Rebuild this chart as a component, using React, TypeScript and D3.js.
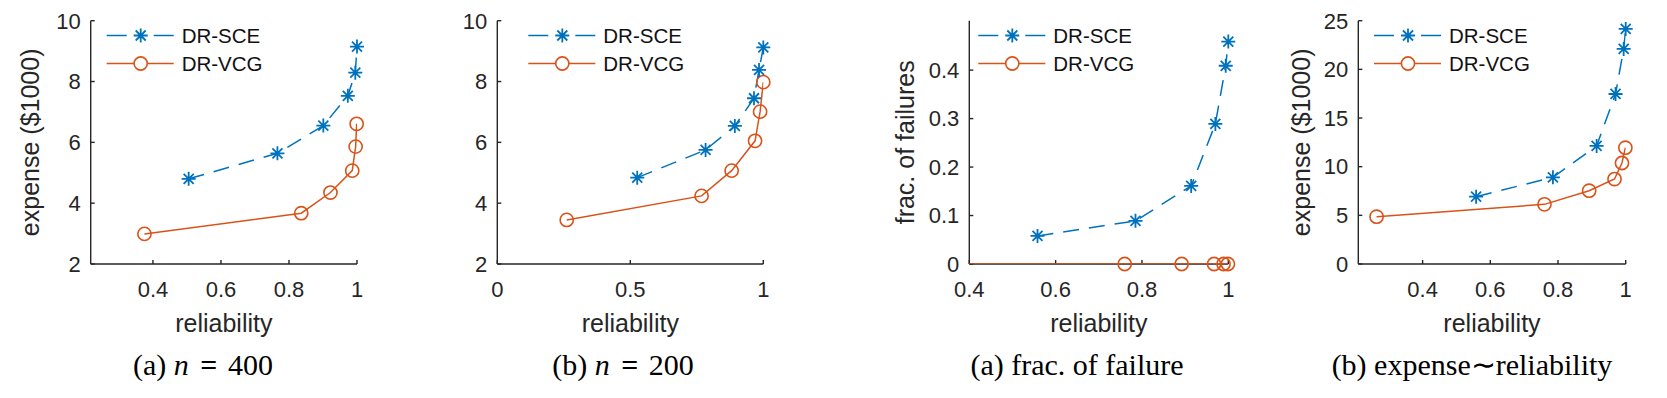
import React from 'react';
import * as d3 from 'd3';

const W = 1667;
const H = 398;

// (a) n = 400
const sceRelA = [0.505, 0.766, 0.901, 0.973, 0.995, 1.0];
const sceExpA = [4.8, 5.64, 6.55, 7.53, 8.29, 9.15];
const vcgRelA = [0.375, 0.836, 0.922, 0.986, 0.996, 0.999];
const vcgExpA = [2.99, 3.67, 4.35, 5.07, 5.86, 6.61];

// (b) n = 200
const sceRelB = [0.526, 0.783, 0.893, 0.965, 0.984, 1.0];
const sceExpB = [4.84, 5.75, 6.54, 7.45, 8.38, 9.12];
const vcgRelB = [0.261, 0.768, 0.881, 0.969, 0.988, 1.0];
const vcgExpB = [3.45, 4.24, 5.07, 6.05, 7.01, 7.98];

// second figure: failure fraction and expense vs reliability
const sceRel = [0.558, 0.785, 0.914, 0.97, 0.994, 1.0];
const vcgRel = [0.264, 0.76, 0.892, 0.967, 0.989, 0.999];
const sceFail = [0.058, 0.089, 0.161, 0.289, 0.409, 0.459];
const vcgFail = [0, 0, 0, 0, 0, 0];
const sceExp = [6.92, 8.91, 12.13, 17.47, 22.1, 24.15];
const vcgExp = [4.86, 6.13, 7.53, 8.73, 10.38, 11.95];

const seriesNames = ['DR-SCE', 'DR-VCG'];
const ticksA = [0.4, 0.6, 0.8, 1];
const ticksB = [0, 0.5, 1];
const expTicks = [2, 4, 6, 8, 10];
const failTicks = [0, 0.1, 0.2, 0.3, 0.4];
const expTicks2 = [0, 5, 10, 15, 20, 25];

const BLUE = '#0072BD';
const ORANGE = '#D95319';
const AX = '#262626';
const SANS = '"Liberation Sans", Arial, Helvetica, sans-serif';
const SERIF = '"Liberation Serif", "Times New Roman", serif';

const Star = ({ x, y, c }) => {
  const r = 7, q = 5;
  return (
    <path
      d={`M${x - r},${y}H${x + r}M${x},${y - r}V${y + r}M${x - q},${y - q}L${x + q},${y + q}M${x - q},${y + q}L${x + q},${y - q}`}
      stroke={c} strokeWidth={1.8} fill="none"
    />
  );
};

const Circ = ({ x, y, c }) => (
  <circle cx={x} cy={y} r={6.6} fill="none" stroke={c} strokeWidth={1.6} />
);

const fmt = (v) => String(+v.toFixed(2));

const Panel = ({ id, cfg }) => {
  const { x0, x1, y0, y1, xDom, yDom, xTicks, yTicks, sce, vcg, yLabel, yLabelX, legX, caption, capX } = cfg;
  const xs = d3.scaleLinear().domain(xDom).range([x0, x1]);
  const ys = d3.scaleLinear().domain(yDom).range([y0, y1]);
  const ln = d3.line().x((d) => xs(d[0])).y((d) => ys(d[1]));
  const inDom = (d) => d[0] >= xDom[0] - 1e-9 && d[0] <= xDom[1] + 1e-9;
  const clipId = `clip-${id}`;
  const tk = 4;
  return (
    <g>
      <defs>
        <clipPath id={clipId}>
          <rect x={x0} y={y1} width={x1 - x0} height={y0 - y1} />
        </clipPath>
      </defs>
      {/* axes */}
      <g stroke={AX} strokeWidth={1.4}>
        <line x1={x0} x2={x1} y1={y0} y2={y0} />
        <line x1={x0} x2={x0} y1={y0} y2={y1} />
        {xTicks.map((t) => (
          <line key={'xt' + t} x1={xs(t)} x2={xs(t)} y1={y0} y2={y0 - tk} />
        ))}
        {yTicks.map((t) => (
          <line key={'yt' + t} x1={x0} x2={x0 + tk} y1={ys(t)} y2={ys(t)} />
        ))}
      </g>
      <g fontFamily={SANS} fontSize={22} fill={AX}>
        {xTicks.map((t) => (
          <text key={'xl' + t} x={xs(t)} y={297} textAnchor="middle">{fmt(t)}</text>
        ))}
        {yTicks.map((t) => (
          <text key={'yl' + t} x={x0 - 10} y={ys(t) + 7.8} textAnchor="end">{fmt(t)}</text>
        ))}
      </g>
      <text x={(x0 + x1) / 2} y={332} textAnchor="middle" fontFamily={SANS} fontSize={25} fill={AX}>reliability</text>
      {yLabel && (
        <text transform={`translate(${yLabelX},${(y0 + y1) / 2}) rotate(-90)`} textAnchor="middle"
          fontFamily={SANS} fontSize={25} fill={AX}>{yLabel}</text>
      )}
      {/* data */}
      <g clipPath={`url(#${clipId})`} fill="none" strokeWidth={1.5}>
        <path d={ln(vcg)} stroke={ORANGE} />
        <path d={ln(sce)} stroke={BLUE} strokeDasharray="16 10" />
      </g>
      {vcg.filter(inDom).map((d, i) => <Circ key={'c' + i} x={xs(d[0])} y={ys(d[1])} c={ORANGE} />)}
      {sce.filter(inDom).map((d, i) => <Star key={'s' + i} x={xs(d[0])} y={ys(d[1])} c={BLUE} />)}
      {/* legend */}
      <g fontFamily={SANS} fontSize={20.5} fill="#111">
        <line x1={legX} x2={legX + 20} y1={35.5} y2={35.5} stroke={BLUE} strokeWidth={1.5} />
        <line x1={legX + 47} x2={legX + 67} y1={35.5} y2={35.5} stroke={BLUE} strokeWidth={1.5} />
        <Star x={legX + 34} y={35.5} c={BLUE} />
        <text x={legX + 75} y={42.8}>{seriesNames[0]}</text>
        <line x1={legX} x2={legX + 67} y1={63.5} y2={63.5} stroke={ORANGE} strokeWidth={1.5} />
        <circle cx={legX + 34} cy={63.5} r={6.6} fill="#fff" stroke={ORANGE} strokeWidth={1.6} />
        <text x={legX + 75} y={70.8}>{seriesNames[1]}</text>
      </g>
      {/* caption */}
      <text x={capX} y={375} textAnchor="middle" fontFamily={SERIF} fontSize={30} fill="#000">{caption}</text>
    </g>
  );
};

const zip = (a, b) => a.map((v, i) => [v, b[i]]);

const panels = [
  {
    x0: 90.7, x1: 357, y0: 264, y1: 20.7, xDom: [0.217, 1], yDom: [2, 10], xTicks: ticksA, yTicks: expTicks,
    sce: zip(sceRelA, sceExpA), vcg: zip(vcgRelA, vcgExpA), yLabel: 'expense ($1000)', yLabelX: 39, legX: 106.7,
    capX: 203,
    caption: (<><tspan>(a) </tspan><tspan fontStyle="italic">n</tspan><tspan dx={4} fontWeight="bold"> = </tspan><tspan dx={3}>400</tspan></>),
  },
  {
    x0: 497.3, x1: 763.3, y0: 264, y1: 20.7, xDom: [0, 1], yDom: [2, 10], xTicks: ticksB, yTicks: expTicks,
    sce: zip(sceRelB, sceExpB), vcg: zip(vcgRelB, vcgExpB), yLabel: null, yLabelX: 0, legX: 528.3,
    capX: 623,
    caption: (<><tspan>(b) </tspan><tspan fontStyle="italic">n</tspan><tspan dx={4} fontWeight="bold"> = </tspan><tspan dx={3}>200</tspan></>),
  },
  {
    x0: 969.3, x1: 1228.3, y0: 264, y1: 20.7, xDom: [0.4, 1], yDom: [0, 0.502], xTicks: ticksA, yTicks: failTicks,
    sce: zip(sceRel, sceFail), vcg: zip(vcgRel, vcgFail), yLabel: 'frac. of failures', yLabelX: 914, legX: 978.3,
    capX: 1077,
    caption: '(a) frac. of failure',
  },
  {
    x0: 1358.3, x1: 1625.7, y0: 264, y1: 20.7, xDom: [0.21, 1], yDom: [0, 25], xTicks: ticksA, yTicks: expTicks2,
    sce: zip(sceRel, sceExp), vcg: zip(vcgRel, vcgExp), yLabel: 'expense ($1000)', yLabelX: 1310, legX: 1374,
    capX: 1472,
    caption: '(b) expense\u223Creliability',
  },
];

export default function App() {
  return (
    <svg width={W} height={H} viewBox={`0 0 ${W} ${H}`}
      style={{ position: 'absolute', left: 0, top: 0, background: '#fff' }}>
      <rect width={W} height={H} fill="#fff" />
      {panels.map((p, i) => <Panel key={i} id={i} cfg={p} />)}
    </svg>
  );
}
